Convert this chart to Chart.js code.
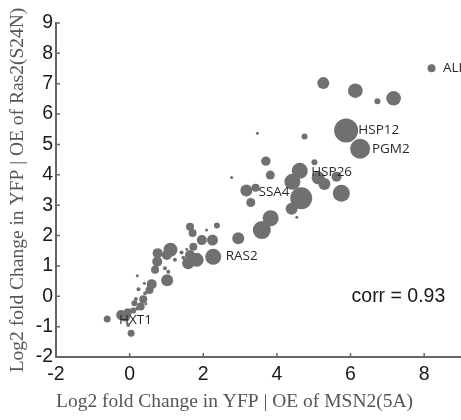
<!DOCTYPE html>
<html>
<head>
<meta charset="utf-8">
<script src="https://cdn.jsdelivr.net/npm/chart.js@4/dist/chart.umd.min.js"></script>
<style>
  html, body { margin: 0; padding: 0; background: #fff; overflow: hidden; }
  #wrap { width: 461px; height: 420px; position: relative; }
</style>
</head>
<body>
<div id="wrap"><canvas id="scatterChart"></canvas></div>
<script>
// log2 fold change, MSN2(5A) OE (x) vs Ras2(S24N) OE (y)
const xVals = [
    8.20, 5.26, 6.13, 6.73, 7.17, 5.88, 6.26, 3.47, 4.75, 3.70,
    5.02, 3.82, 2.77, 4.62, 4.42, 5.12, 5.29, 5.62, 5.75, 4.66,
    3.17, 3.42, 3.29, 4.40, 4.54, 3.83, 3.59, 2.95, 2.37, 2.09,
    2.25, 2.27, 1.64, 1.71, 1.96, 1.73, 1.55, 1.64, 1.59, 1.82,
    1.41, 1.11, 1.01, 0.76, 0.75, 0.69, 0.96, 1.05, 1.23, 1.02,
    0.60, 0.54, 0.21, 0.40, 0.24, 0.42, 0.37, 0.17, 0.13, 0.30,
    0.44, 0.21, 0.10, -0.05, -0.23, -0.12, -0.61, 0.04, -0.04, 1.46
];
const yVals = [
    7.51, 7.02, 6.77, 6.42, 6.52, 5.46, 4.86, 5.37, 5.26, 4.45,
    4.41, 3.99, 3.91, 4.13, 3.77, 3.90, 3.70, 3.94, 3.39, 3.23,
    3.48, 3.57, 3.09, 2.88, 2.60, 2.57, 2.18, 1.91, 2.33, 2.18,
    1.85, 1.30, 2.29, 2.08, 1.85, 1.63, 1.55, 1.36, 1.09, 1.20,
    1.44, 1.53, 1.36, 1.42, 1.14, 0.87, 0.92, 0.81, 1.20, 0.53,
    0.40, 0.21, 0.68, 0.43, 0.23, 0.10, -0.10, -0.09, -0.23, -0.34,
    -0.25, -0.40, -0.47, -0.53, -0.62, -0.67, -0.75, -1.22, -0.95, 1.27
];
// bubble radius (px)
const bubbleR = [
    4, 6, 7.3, 3, 7.3, 12, 10, 1.5, 3, 4.7,
    3, 4.5, 1.5, 8, 8, 6.5, 6, 5, 8.5, 11,
    6, 4, 4.5, 6, 1.5, 8, 9, 6, 3, 1.5,
    5.5, 8, 4, 4, 5, 4, 1.5, 5, 6, 7,
    2, 7, 5, 5, 5, 4, 2, 2, 2, 6,
    5, 4, 1.5, 1.5, 2, 2, 4, 2, 3, 4,
    1.5, 2, 3, 4, 5, 5, 3.5, 3.5, 2, 2
];

const geneNames = ["ALI", "HSP12", "PGM2", "HSP26", "SSA4", "RAS2", "HXT1"];
const geneX = [8.51, 6.21, 6.58, 4.93, 3.50, 2.61, -0.29];
const geneY = [7.52, 5.48, 4.85, 4.10, 3.43, 1.33, -0.80];

const xTicks = [-2, 0, 2, 4, 6, 8];
const corrText = "corr = 0.93";
const corrPos = [7.3, 0.0];

const xTitle = "Log2 fold Change in YFP | OE of MSN2(5A)";
const yTitle = "Log2 fold Change in YFP | OE of Ras2(S24N)";

const points = xVals.map((x, i) => ({ x: x, y: yVals[i], r: bubbleR[i] }));

const axisColor = "#666";
const sansFont = "'Liberation Sans', Arial, sans-serif";
const serifFont = "'Liberation Serif', 'Times New Roman', serif";

// small inward tick marks, gene names and the corr note
const annotations = {
    id: "annotations",
    afterDatasetsDraw(chart) {
        const { ctx, scales: { x, y } } = chart;
        ctx.save();
        ctx.strokeStyle = axisColor;
        ctx.lineWidth = 1.5;
        ctx.beginPath();
        xTicks.forEach((v) => {
            if (v === -2) return;
            const px = x.getPixelForValue(v);
            ctx.moveTo(px, y.bottom);
            ctx.lineTo(px, y.bottom - 4);
        });
        y.ticks.forEach((t) => {
            if (t.value === -2) return;
            const py = y.getPixelForValue(t.value);
            ctx.moveTo(x.left, py);
            ctx.lineTo(x.left + 4, py);
        });
        ctx.stroke();

        ctx.fillStyle = "#2a2a2a";
        ctx.font = "13.5px 'Open Sans', sans-serif";
        ctx.textAlign = "left";
        ctx.textBaseline = "middle";
        geneNames.forEach((name, i) => {
            ctx.fillText(name, x.getPixelForValue(geneX[i]), y.getPixelForValue(geneY[i]));
        });

        ctx.fillStyle = "#1a1a1a";
        ctx.font = "19.5px " + sansFont;
        ctx.textAlign = "center";
        ctx.fillText(corrText, x.getPixelForValue(corrPos[0]), y.getPixelForValue(corrPos[1]));
        ctx.restore();
    },
};

new Chart(document.getElementById("scatterChart"), {
    type: "bubble",
    data: {
        datasets: [
            {
                data: points,
                backgroundColor: "rgb(112,112,112)",
                borderWidth: 0,
                hoverRadius: 0,
            },
        ],
    },
    options: {
        responsive: true,
        maintainAspectRatio: false,
        animation: false,
        events: [],
        layout: {
            autoPadding: false,
            padding: { top: 23, right: 0, bottom: 0, left: 0 },
        },
        plugins: {
            legend: { display: false },
            tooltip: { enabled: false },
        },
        scales: {
            x: {
                type: "linear",
                min: -2,
                max: 9,
                afterFit: (scale) => {
                    scale.height = 63;
                    scale.paddingLeft = 0;
                    scale.paddingRight = 0;
                },
                grid: { display: false, drawTicks: false },
                border: { display: true, color: axisColor, width: 2 },
                ticks: {
                    stepSize: 2,
                    autoSkip: false,
                    padding: 6,
                    color: "#1a1a1a",
                    font: { family: sansFont, size: 19.5 },
                    callback: (v) => (xTicks.includes(v) ? v : ""),
                },
                title: {
                    display: true,
                    text: xTitle,
                    align: "start",
                    color: "#555",
                    font: { family: serifFont, size: 19.5 },
                    padding: { top: 0, bottom: 6 },
                },
            },
            y: {
                type: "linear",
                min: -2,
                max: 9,
                afterFit: (scale) => {
                    scale.width = 56;
                    scale.paddingTop = 0;
                    scale.paddingBottom = 0;
                },
                grid: { display: false, drawTicks: false },
                border: { display: true, color: axisColor, width: 2 },
                ticks: {
                    stepSize: 1,
                    padding: 3,
                    color: "#1a1a1a",
                    font: { family: sansFont, size: 19.5 },
                },
                title: {
                    display: true,
                    text: yTitle,
                    color: "#555",
                    font: { family: serifFont, size: 19.5 },
                    padding: { top: 6, bottom: 0 },
                },
            },
        },
    },
    plugins: [annotations],
});
</script>
</body>
</html>
